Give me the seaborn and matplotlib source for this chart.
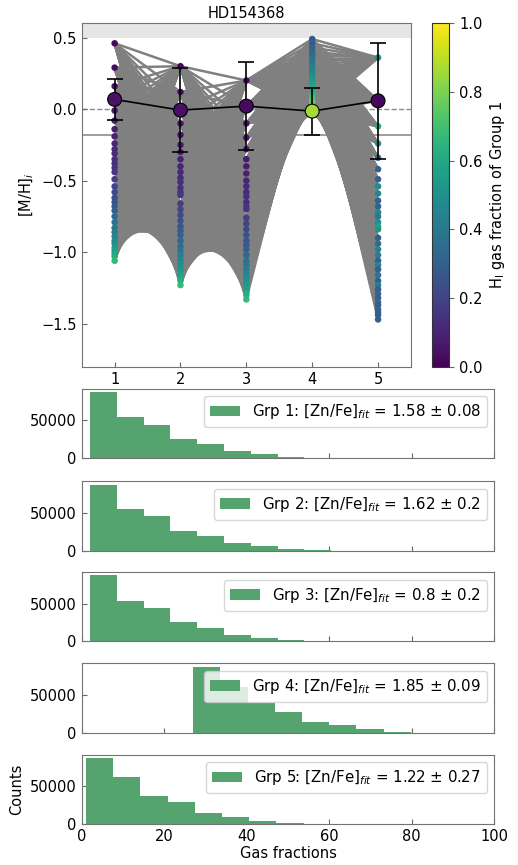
import numpy as np
import pandas as pd
import matplotlib
matplotlib.use('Agg')
import matplotlib.pyplot as plt
from matplotlib.collections import LineCollection
import seaborn as sns

# ---------------------------------------------------------------------------
# Data
# ---------------------------------------------------------------------------
STAR = 'HD154368'
GROUPS = [1, 2, 3, 4, 5]

# HI gas fraction grid (%) of the model points in each group column
GAS_123 = [2, 3, 4, 5, 6, 7, 8, 9, 10, 11, 12, 13, 14, 15, 16, 18, 20, 22, 24,
           26, 28, 30, 33, 36, 39, 42, 45, 48, 51, 54, 57, 60, 63, 67]
GAS_4 = [27, 29, 31, 33, 35, 37, 39, 42, 45, 48, 51, 54, 57, 60, 63, 66, 69,
         72, 75, 78, 81, 84, 87, 90, 93]
GAS_5 = [1, 2, 3, 4, 5, 6, 7, 8, 9, 10, 11, 12, 13, 14, 15, 16, 18, 20, 22, 24,
         26, 28, 30, 33, 36, 39, 42, 45, 48, 51, 54, 57, 60, 63, 67]

# [M/H]_i of the model points
MH_1 = [0.46, 0.29, 0.16, 0.07, -0.01, -0.08, -0.14, -0.19, -0.24, -0.28,
        -0.31, -0.35, -0.38, -0.41, -0.44, -0.49, -0.54, -0.58, -0.62, -0.65,
        -0.68, -0.71, -0.75, -0.79, -0.83, -0.86, -0.89, -0.92, -0.94, -0.97,
        -0.99, -1.01, -1.03, -1.06]
MH_2 = [0.30, 0.12, 0.00, -0.10, -0.18, -0.25, -0.30, -0.35, -0.40, -0.44,
        -0.48, -0.51, -0.55, -0.58, -0.60, -0.66, -0.70, -0.74, -0.78, -0.82,
        -0.85, -0.88, -0.92, -0.96, -0.99, -1.02, -1.05, -1.08, -1.11, -1.13,
        -1.16, -1.18, -1.20, -1.23]
MH_3 = [0.20, 0.02, -0.10, -0.20, -0.28, -0.35, -0.40, -0.45, -0.50, -0.54,
        -0.58, -0.61, -0.65, -0.68, -0.70, -0.76, -0.80, -0.84, -0.88, -0.92,
        -0.95, -0.98, -1.02, -1.06, -1.09, -1.12, -1.15, -1.18, -1.21, -1.23,
        -1.26, -1.28, -1.30, -1.33]
MH_4 = [0.49, 0.46, 0.43, 0.40, 0.38, 0.36, 0.33, 0.30, 0.27, 0.24, 0.22,
        0.19, 0.17, 0.15, 0.12, 0.10, 0.08, 0.07, 0.05, 0.03, 0.02, 0.00,
        -0.02, -0.03, -0.04]
MH_5 = [0.36, 0.06, -0.12, -0.24, -0.34, -0.42, -0.49, -0.54, -0.59, -0.64,
        -0.68, -0.72, -0.75, -0.79, -0.82, -0.84, -0.90, -0.94, -0.98, -1.02,
        -1.06, -1.09, -1.12, -1.16, -1.20, -1.23, -1.26, -1.29, -1.32, -1.35,
        -1.37, -1.40, -1.42, -1.44, -1.47]
# colour values of the group 5 points (not monotonic in the picture)
COL_5 = [0.50, 0.45, 0.62, 0.50, 0.33, 0.30, 0.30, 0.48, 0.45, 0.32, 0.30,
         0.45, 0.40, 0.50, 0.58, 0.52, 0.30, 0.35, 0.45, 0.42, 0.30, 0.45,
         0.30, 0.38, 0.30, 0.42, 0.30, 0.33, 0.30, 0.35, 0.30, 0.32, 0.30,
         0.30, 0.30]

# max summed gas fraction (%) allowed between neighbouring groups
LINK_BUDGET = [70, 70, 95, 94]

# best-fit values with asymmetric error bars
MEAN_MH = [0.068, -0.007, 0.021, -0.014, 0.058]
MEAN_GAS = [0.05, 0.04, 0.03, 0.86, 0.02]
ERR_LOW = [-0.077, -0.300, -0.284, -0.179, -0.351]
ERR_HIGH = [0.210, 0.284, 0.330, 0.147, 0.465]

REF_SOLID = -0.18

# histograms of gas fractions per group (10 bins between min and max)
HIST_RANGE = [(2, 67), (2, 67), (2, 67), (27, 93), (1, 67)]
COUNTS_1 = [87200, 54400, 44300, 25700, 18600, 9700, 5800, 1800, 400, 50]
COUNTS_2 = [87700, 55400, 45600, 26100, 19900, 10200, 6600, 2200, 400, 50]
COUNTS_3 = [87000, 53600, 44100, 25200, 18000, 8500, 4500, 1400, 300, 50]
COUNTS_4 = [86300, 60400, 38800, 27600, 14700, 10400, 4300, 1300, 200, 30]
COUNTS_5 = [87000, 62100, 36900, 28800, 15100, 9800, 4400, 1300, 300, 50]
ZN_FE = ['1.58 ± 0.08', '1.62 ± 0.2', '0.8 ± 0.2', '1.85 ± 0.09', '1.22 ± 0.27']

BAR_COLOR = '#55a470'


def main():
    sns.set_style('ticks', {
        'axes.edgecolor': '0.45',
        'xtick.direction': 'in',
        'ytick.direction': 'in',
        'xtick.color': '0.4',
        'ytick.color': '0.4',
        'text.color': 'black',
        'axes.labelcolor': 'black',
    })
    plt.rcParams['font.family'] = ['DejaVu Sans']
    plt.rcParams['font.size'] = 10.5
    plt.rcParams['xtick.labelcolor'] = 'black'
    plt.rcParams['ytick.labelcolor'] = 'black'

    fig = plt.figure(figsize=(5.18, 8.65), dpi=100)
    ax = fig.add_axes([0.1577, 0.5761, 0.6357, 0.3970])
    cax = fig.add_axes([0.8346, 0.5761, 0.0328, 0.3970])

    gas_cols = [GAS_123, GAS_123, GAS_123, GAS_4, GAS_5]
    mh_cols = [MH_1, MH_2, MH_3, MH_4, MH_5]
    col_vals = [np.array(GAS_123) / 100, np.array(GAS_123) / 100,
                np.array(GAS_123) / 100, np.array(GAS_4) / 100, COL_5]

    # reference levels
    ax.axhspan(0.5, 0.6, color='0.9', lw=0, zorder=0)
    ax.axhline(0, color='0.55', ls='--', lw=1, zorder=0)
    ax.axhline(REF_SOLID, color='0.55', ls='-', lw=1.2, zorder=0)

    # model tracks linking neighbouring groups
    segs = []
    for k in range(len(GROUPS) - 1):
        for ga, ya in zip(gas_cols[k], mh_cols[k]):
            for gb, yb in zip(gas_cols[k + 1], mh_cols[k + 1]):
                if ga + gb <= LINK_BUDGET[k]:
                    segs.append([(GROUPS[k], ya), (GROUPS[k + 1], yb)])
    ax.add_collection(LineCollection(segs, colors='0.5', linewidths=1.8,
                                     zorder=1))

    for k, grp in enumerate(GROUPS):
        sc = ax.scatter(np.full(len(mh_cols[k]), grp), mh_cols[k],
                        c=col_vals[k], cmap='viridis', vmin=0, vmax=1,
                        s=22, lw=0, zorder=3)

    ax.errorbar(GROUPS, MEAN_MH,
                yerr=[np.array(MEAN_MH) - np.array(ERR_LOW),
                      np.array(ERR_HIGH) - np.array(MEAN_MH)],
                fmt='none', ecolor='black', elinewidth=1.2, capsize=6,
                capthick=1.2, zorder=4)
    ax.plot(GROUPS, MEAN_MH, color='black', lw=1.2, zorder=4)
    ax.scatter(GROUPS, MEAN_MH, c=MEAN_GAS, cmap='viridis', vmin=0, vmax=1,
               s=100, edgecolors='black', linewidths=0.8, zorder=5)

    ax.set_xlim(0.5, 5.5)
    ax.set_ylim(-1.8, 0.6)
    ax.set_xticks(GROUPS)
    ax.set_yticks([-1.5, -1.0, -0.5, 0.0, 0.5])
    ax.set_ylabel(r'[M/H]$_i$')
    ax.set_title(STAR, fontsize=10.5, pad=4)

    cb = fig.colorbar(sc, cax=cax)
    cb.set_ticks([0, 0.2, 0.4, 0.6, 0.8, 1.0])
    cb.set_label(r'H$_{\rm I}$ gas fraction of Group 1')
    cb.outline.set_edgecolor('0.2')
    cax.tick_params(direction='out', color='0.4')

    # gas-fraction histograms
    counts = [COUNTS_1, COUNTS_2, COUNTS_3, COUNTS_4, COUNTS_5]
    bottoms = [0.4702, 0.3634, 0.2584, 0.1529, 0.0471]
    for k, grp in enumerate(GROUPS):
        hax = fig.add_axes([0.1577, bottoms[k], 0.7965, 0.0801])
        lo, hi = HIST_RANGE[k]
        width = (hi - lo) / len(counts[k])
        df = pd.DataFrame({'gas': lo + width * (np.arange(len(counts[k])) + 0.5),
                           'n': counts[k]})
        sns.histplot(data=df, x='gas', weights='n', bins=len(counts[k]),
                     binrange=(lo, hi), ax=hax,
                     color=BAR_COLOR, alpha=1, linewidth=0,
                     label=rf'Grp {grp}: [Zn/Fe]$_{{fit}}$ = {ZN_FE[k]}')
        hax.set_xlim(0, 100)
        hax.set_ylim(0, max(counts[k]) * 1.05)
        hax.set_xticks([0, 20, 40, 60, 80, 100])
        hax.set_yticks([0, 50000])
        hax.legend(loc='upper right', fontsize=10.8)
        if k < len(GROUPS) - 1:
            hax.set_xticklabels([])
            hax.set_xlabel('')
            hax.set_ylabel('')
        else:
            hax.set_xlabel('Gas fractions', labelpad=1)
            hax.set_ylabel('Counts')

    fig.savefig('out.png', dpi=100)
    plt.close(fig)


if __name__ == '__main__':
    main()
